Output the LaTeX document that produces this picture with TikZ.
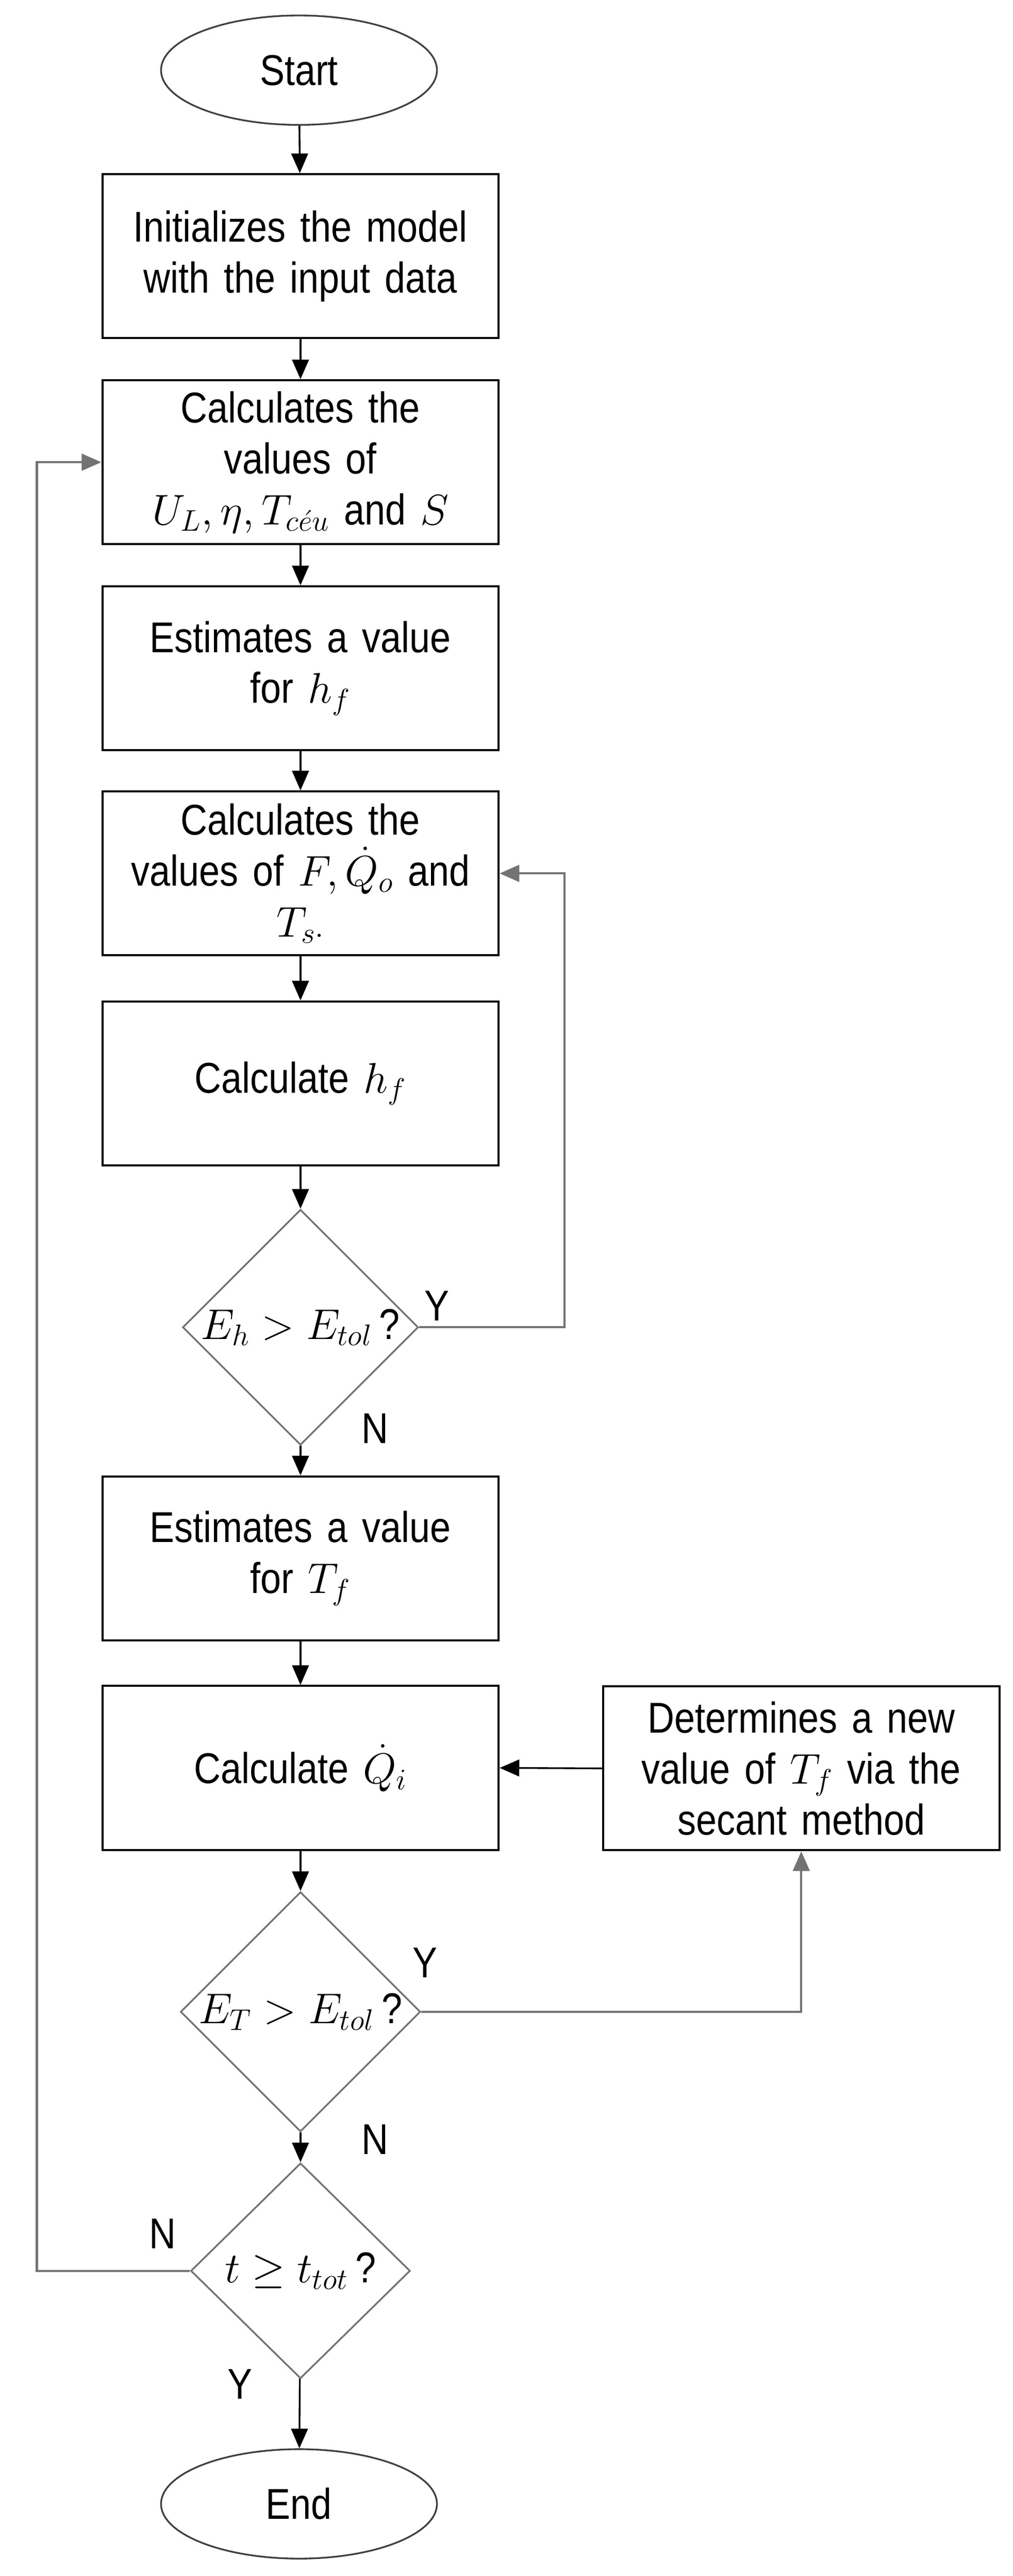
\documentclass[tikz,border=0pt]{standalone}
\usepackage{fontspec}
\setmainfont{Liberation Sans}[FakeStretch=0.86]
\usetikzlibrary{shapes.geometric,arrows.meta}
\begin{document}
\begin{tikzpicture}[
  font=\fontsize{25}{29.5}\selectfont,
  box/.style={draw, line width=1.2pt, minimum width=8.07cm, minimum height=3.34cm, inner sep=0, align=center, text width=7.8cm},
  term/.style={draw, line width=1pt, draw=black!75, ellipse, minimum width=5.62cm, minimum height=2.23cm, inner sep=0},
  dec/.style={draw, draw=black!55, line width=1pt, diamond, minimum width=4.47cm, minimum height=4.39cm, inner sep=0},
  arr/.style={line width=1pt, -{Triangle[length=0.4cm,width=0.34cm]}},
  garr/.style={arr, draw=black!55, line width=1.3pt},
  lab/.style={font=\fontsize{25}{28}\selectfont}
]
\useasboundingbox (0,0) rectangle (20.63,-52.5);
\node[term] (start) at (6.09,-1.43) {Start};
\node[box] (b1) at (6.12,-5.22) {Initializes the model\\with the input data};
\node[box] (b2) at (6.12,-9.42) {Calculates the\\values of\\$U_L, \eta, T_{c\acute{e}u}$ and $S$};
\node[box] (b3) at (6.12,-13.62) {Estimates a value\\for $h_f$\\[0.9cm]};
\node[box] (b4) at (6.12,-17.80) {Calculates the\\values of $F, \dot{Q}_o$ and\\$T_{s\cdot}$};
\node[box] (b5) at (6.12,-22.08) {Calculate $h_f$};
\node[dec] (d1) at (6.12,-27.05) {$E_h > E_{tol}\,$?};
\node[box] (b6) at (6.12,-31.76) {Estimates a value\\for $T_f$\\[0.9cm]};
\node[box] (b7) at (6.12,-36.03) {Calculate $\dot{Q}_i$};
\node[box] (r) at (16.32,-36.04) {Determines a new\\value of $T_f$ via the\\secant method};
\node[dec] (d2) at (6.12,-41.00) {$E_T > E_{tol}\,$?};
\node[dec] (d3) at (6.12,-46.28) {$t \geq t_{tot}\,$?};
\node[term] (end) at (6.09,-51.03) {End};
\coordinate (c1) at (11.50,-27.05);
\coordinate (c3) at (0.75,-46.28);
\draw[arr] (start) -- (b1);
\draw[arr] (b1) -- (b2);
\draw[arr] (b2) -- (b3);
\draw[arr] (b3) -- (b4);
\draw[arr] (b4) -- (b5);
\draw[arr] (b5) -- (d1);
\draw[garr] (d1.east) -- (c1) |- (b4.east);
\draw[arr] (d1) -- (b6);
\draw[arr] (b6) -- (b7);
\draw[arr] (b7) -- (d2);
\draw[garr] (d2.east) -| (r.south);
\draw[arr] (r.west) -- (b7.east);
\draw[arr] (d2) -- (d3);
\draw[garr] (d3.west) -- (c3) |- (b2.west);
\draw[arr] (d3) -- (end);
\node[lab] (y1) at (8.90,-26.61) {Y};
\node[lab] (n1) at (7.64,-29.11) {N};
\node[lab] (y2) at (8.66,-40.00) {Y};
\node[lab] (n2) at (7.64,-43.60) {N};
\node[lab] (n3) at (3.31,-45.52) {N};
\node[lab] (y3) at (4.89,-48.59) {Y};
\end{tikzpicture}
\end{document}
